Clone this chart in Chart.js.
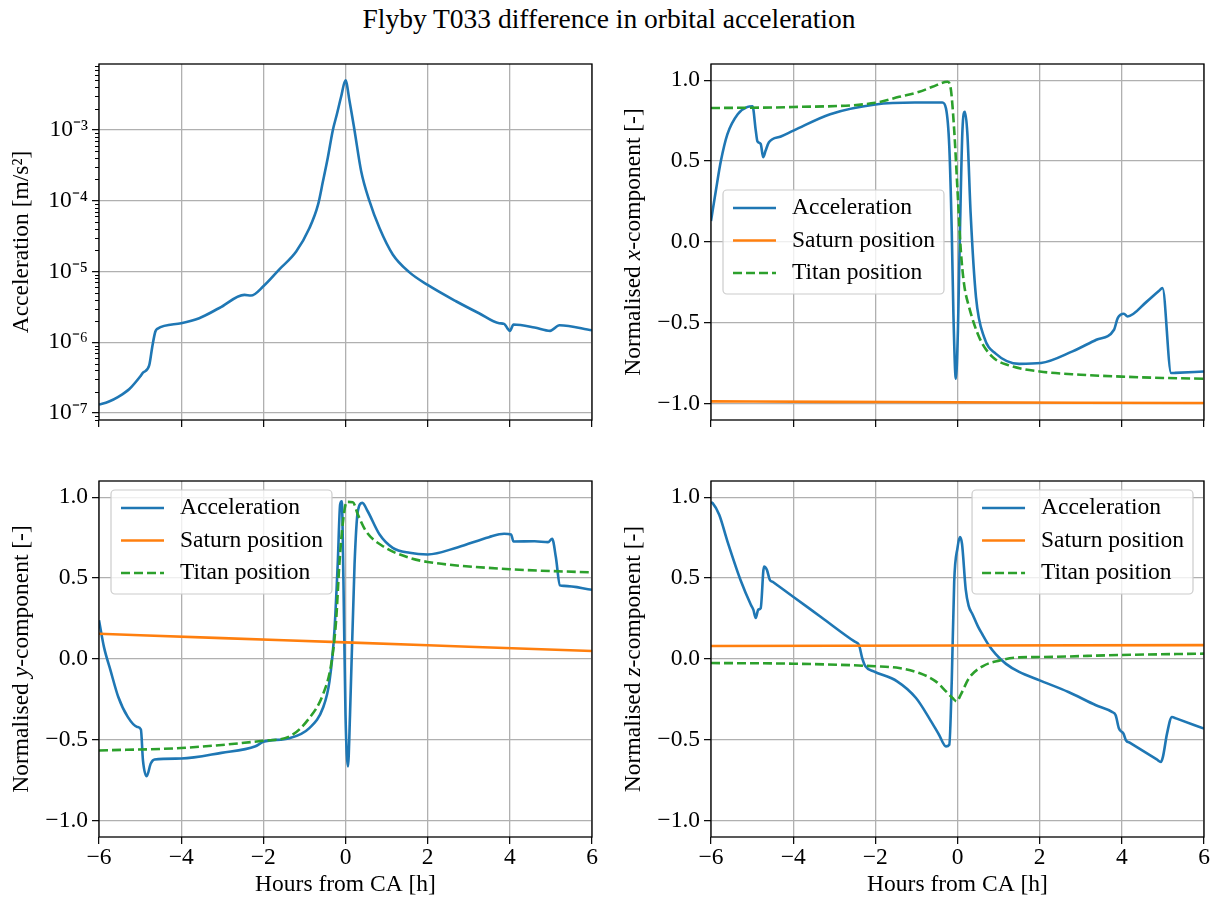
<!DOCTYPE html>
<html>
<head>
<meta charset="utf-8">
<script src="https://cdn.jsdelivr.net/npm/chart.js@4/dist/chart.umd.min.js"></script>
<style>
  body { margin: 0; background: #fff; }
  #page { position: relative; width: 1218px; height: 903px; }
  #title { position: absolute; left: 0; top: 3px; width: 1218px; text-align: center;
           font-family: "Liberation Serif", serif; font-size: 27.5px; color: #000; }
  canvas { position: absolute; }
</style>
</head>
<body>
<div id="page">
  <div id="title">Flyby T033 difference in orbital acceleration</div>
  <canvas id="c1" width="609" height="400" style="left:0;top:44px"></canvas>
  <canvas id="c2" width="609" height="400" style="left:609px;top:44px"></canvas>
  <canvas id="c3" width="609" height="441" style="left:0;top:462px"></canvas>
  <canvas id="c4" width="609" height="441" style="left:609px;top:462px"></canvas>
</div>
<script>
// ticks
var hourTicks = [-6, -4, -2, 0, 2, 4, 6];
var compTicks = [-1, -0.5, 0, 0.5, 1];
var magTicks = [1e-7, 1e-6, 1e-5, 1e-4, 1e-3];
var seriesLabels = ['Acceleration', 'Saturn position', 'Titan position'];

// panel 1: magnitude of acceleration difference [m/s^2]
var magHours = [-6, -5.77, -5.53, -5.26, -4.98, -4.93, -4.78, -4.7, -4.63, -4.58, -4, -3.56, -3.07, -2.46, -2.3, -2,
  -1.61, -1.2, -0.88, -0.67, -0.55, -0.43, -0.31, -0.21, -0.11, 0, 0.1, 0.22, 0.38, 0.58, 0.83, 1.15, 1.55, 2,
  2.69, 3.25, 3.74, 3.86, 3.95, 4.0, 4.09, 4.6, 4.98, 5.21, 6];
var magAcc = [1.32e-7, 1.45e-7, 1.7e-7, 2.19e-7, 3.39e-7, 3.72e-7, 4.68e-7, 8.9e-7, 1.41e-6, 1.55e-6, 1.86e-6, 2.19e-6, 3.05e-6, 4.68e-6, 4.57e-6, 6.17e-6,
  1.07e-5, 1.91e-5, 4.07e-5, 8.7e-5, 1.86e-4, 4.07e-4, 9.8e-4, 1.66e-3, 2.88e-3, 5.0e-3, 2.51e-3, 9.8e-4, 2.63e-4, 1.0e-4, 4.07e-5, 1.74e-5, 9.8e-6, 6.46e-6,
  3.8e-6, 2.57e-6, 1.86e-6, 1.82e-6, 1.55e-6, 1.45e-6, 1.78e-6, 1.62e-6, 1.45e-6, 1.74e-6, 1.48e-6];

// panel 2: x-component
var xAccHours = [-6, -5.88, -5.76, -5.6, -5.35, -5.11, -4.99, -4.91, -4.87, -4.79, -4.73, -4.67, -4.59, -4.3, -3.98, -3.1, -2, -1.04,
  -0.37, -0.28, -0.2, -0.14, -0.1, -0.04, 0.01, 0.06, 0.12, 0.18, 0.24, 0.32, 0.45, 0.65, 0.93, 1.5, 2.03, 2.8, 3.38, 3.81,
  3.9, 4.05, 4.14, 4.6, 4.9, 4.99, 5.2, 5.3, 6];
var xAcc = [0.13, 0.32, 0.5, 0.667, 0.79, 0.835, 0.839, 0.688, 0.622, 0.606, 0.524, 0.565, 0.616, 0.652, 0.69, 0.79, 0.85, 0.862,
  0.862, 0.825, 0.59, 0.07, -0.44, -0.845, -0.55, 0.07, 0.69, 0.805, 0.67, 0.175, -0.34, -0.59, -0.69, -0.753, -0.748, -0.676, -0.604, -0.542,
  -0.47, -0.443, -0.46, -0.37, -0.303, -0.285, -0.81, -0.809, -0.8];
var xSatHours = [-6, -3, 0, 3, 6];
var xSat = [-0.985, -0.988, -0.99, -0.993, -0.995];
var xTitHours = [-6, -4, -2, -1.42, -0.93, -0.61, -0.24, -0.16, -0.08, 0, 0.08, 0.16, 0.28, 0.53, 0.85, 1.26, 2, 3, 4, 5, 6];
var xTit = [0.828, 0.834, 0.86, 0.897, 0.928, 0.959, 0.99, 0.94, 0.69, 0.32, -0.05, -0.26, -0.4, -0.59, -0.71, -0.763, -0.8, -0.82, -0.832, -0.84, -0.845];

// panel 3: y-component
var yAccHours = [-6, -5.88, -5.72, -5.53, -5.3, -5.07, -4.98, -4.93, -4.84, -4.74, -4.65, -4, -3.02, -2.19, -2, -1.36, -0.88,
  -0.55, -0.39, -0.27, -0.19, -0.13, -0.09, -0.05, 0, 0.06, 0.11, 0.22, 0.3, 0.41, 0.54, 0.83, 1.15, 1.56, 2, 2.74, 3.49,
  3.86, 4.03, 4.09, 4.6, 4.93, 5.03, 5.12, 5.22, 5.32, 6];
var yAcc = [0.24, 0.075, -0.07, -0.235, -0.358, -0.42, -0.436, -0.626, -0.724, -0.646, -0.621, -0.615, -0.58, -0.539, -0.512, -0.489, -0.427,
  -0.303, -0.138, 0.171, 0.583, 0.955, 0.975, 0.48, -0.344, -0.664, -0.344, 0.583, 0.913, 0.965, 0.913, 0.769, 0.687, 0.656, 0.646, 0.691, 0.753,
  0.774, 0.77, 0.726, 0.728, 0.722, 0.743, 0.63, 0.455, 0.452, 0.428];
var ySatHours = [-6, -3, 0, 3, 6];
var ySat = [0.156, 0.129, 0.103, 0.076, 0.049];
var yTitHours = [-6, -4, -2, -1.36, -0.88, -0.55, -0.35, -0.23, -0.15, -0.06, 0.03, 0.18, 0.3, 0.5, 0.91, 1.56, 2, 4, 6];
var yTit = [-0.565, -0.55, -0.505, -0.478, -0.365, -0.22, -0.035, 0.233, 0.583, 0.852, 0.971, 0.969, 0.893, 0.79, 0.697, 0.625, 0.6, 0.555, 0.535];

// panel 4: z-component
var zAccHours = [-6, -5.96, -5.8, -5.6, -5.27, -5.03, -4.97, -4.91, -4.85, -4.79, -4.71, -4.64, -4.57, -4.5, -4, -3.3, -2.5, -2.4, -2.32, -2.24, -2.04,
  -1.47, -1.01, -0.69, -0.45, -0.28, -0.2, -0.14, -0.08, 0, 0.06, 0.11, 0.2, 0.27, 0.37, 0.5, 0.61, 0.75, 0.93, 1.18, 1.5, 2, 2.7, 3.37,
  3.76, 3.85, 3.93, 4.04, 4.1, 4.2, 4.85, 4.95, 5.0, 5.1, 5.22, 5.32, 6];
var zAcc = [0.969, 0.963, 0.891, 0.727, 0.48, 0.335, 0.305, 0.253, 0.305, 0.315, 0.572, 0.551, 0.49, 0.477, 0.385, 0.255, 0.107, 0.088, 0.006, -0.045, -0.076,
  -0.138, -0.241, -0.365, -0.468, -0.54, -0.53, -0.138, 0.48, 0.687, 0.753, 0.711, 0.43, 0.33, 0.274, 0.2, 0.15, 0.09, 0.03, -0.03, -0.08, -0.132, -0.204, -0.286,
  -0.327, -0.348, -0.43, -0.461, -0.502, -0.518, -0.62, -0.636, -0.605, -0.461, -0.358, -0.367, -0.43];
var zSatHours = [-6, 0, 6];
var zSat = [0.08, 0.083, 0.086];
var zTitHours = [-6, -4, -2, -1.42, -0.93, -0.53, -0.28, -0.12, -0.02, 0.08, 0.28, 0.61, 1.01, 1.5, 2, 4, 6];
var zTit = [-0.025, -0.029, -0.045, -0.056, -0.087, -0.138, -0.2, -0.241, -0.262, -0.22, -0.118, -0.045, -0.01, 0.01, 0.012, 0.025, 0.033];

var FONT = '"Liberation Serif", serif';
var FS = 23.5;
var blue = '#1f77b4', orange = '#ff7f0e', green = '#2ca02c';
Chart.defaults.font.family = FONT;
Chart.defaults.font.size = FS;
Chart.defaults.color = '#000';

function pts(xs, ys) {
  var out = [];
  for (var i = 0; i < xs.length; i++) out.push({x: xs[i], y: ys[i]});
  return out;
}

function line(label, xs, ys, color, dash, order) {
  return {
    label: label, data: pts(xs, ys), borderColor: color, borderWidth: 2.6,
    borderDash: dash, pointRadius: 0, cubicInterpolationMode: 'monotone', order: order, fill: false
  };
}

function minus(s) { return String(s).replace('-', '\u2212'); }
var sup = {'-': '\u207B', '0': '\u2070', '1': '\u00B9', '2': '\u00B2', '3': '\u00B3', '4': '\u2074',
           '5': '\u2075', '6': '\u2076', '7': '\u2077', '8': '\u2078', '9': '\u2079'};

// frame around each plot
var boxPlugin = {
  id: 'box',
  afterDraw: function(chart) {
    var ctx = chart.ctx, a = chart.chartArea;
    ctx.save();
    ctx.strokeStyle = '#000';
    ctx.lineWidth = 1.3;
    ctx.strokeRect(a.left, a.top, a.right - a.left, a.bottom - a.top);
    ctx.restore();
  }
};

// rotated y title with italic parts
var yTitlePlugin = {
  id: 'yTitle',
  afterDraw: function(chart, args, opts) {
    var ctx = chart.ctx, a = chart.chartArea;
    var parts = opts.parts, w = 0;
    ctx.save();
    ctx.translate(opts.x, (a.top + a.bottom) / 2);
    ctx.rotate(-Math.PI / 2);
    parts.forEach(function(p) {
      ctx.font = (p.italic ? 'italic ' : '') + FS + 'px ' + FONT;
      p.w = ctx.measureText(p.text).width;
      w += p.w;
    });
    var x = -w / 2;
    ctx.fillStyle = '#000';
    ctx.textBaseline = 'middle';
    parts.forEach(function(p) {
      ctx.font = (p.italic ? 'italic ' : '') + FS + 'px ' + FONT;
      ctx.fillText(p.text, x, 0);
      x += p.w;
    });
    ctx.restore();
  }
};

// matplotlib style legend box inside the axes
var boxLegend = {
  id: 'boxLegend',
  afterDraw: function(chart, args, opts) {
    if (!opts.show) return;
    var ctx = chart.ctx, a = chart.chartArea, ds = chart.data.datasets;
    ctx.save();
    ctx.font = FS + 'px ' + FONT;
    var tw = 0;
    ds.forEach(function(d) { tw = Math.max(tw, ctx.measureText(d.label).width); });
    var w = 10 + 43 + 16 + tw + 9, h = 104;
    var x = opts.align === 'right' ? a.right - opts.dx - w : a.left + opts.dx;
    var y = a.top + opts.dy;
    ctx.fillStyle = 'rgba(255,255,255,0.8)';
    ctx.strokeStyle = '#cccccc';
    ctx.lineWidth = 1.2;
    ctx.beginPath();
    ctx.roundRect(x, y, w, h, 4);
    ctx.fill();
    ctx.stroke();
    ds.forEach(function(d, i) {
      var cy = y + 18 + i * 32.5;
      ctx.strokeStyle = d.borderColor;
      ctx.lineWidth = d.borderWidth;
      ctx.setLineDash(d.borderDash || []);
      ctx.beginPath();
      ctx.moveTo(x + 10, cy);
      ctx.lineTo(x + 53, cy);
      ctx.stroke();
      ctx.setLineDash([]);
      ctx.fillStyle = '#000';
      ctx.textBaseline = 'middle';
      ctx.fillText(d.label, x + 69, cy);
    });
    ctx.restore();
  }
};

// short minor ticks on the log axis
var minorTicks = {
  id: 'minorTicks',
  afterDraw: function(chart, args, opts) {
    if (!opts.show) return;
    var s = chart.scales.y, ctx = chart.ctx, a = chart.chartArea;
    ctx.save();
    ctx.strokeStyle = '#000';
    ctx.lineWidth = 1;
    for (var e = -8; e <= -2; e++) {
      for (var k = 2; k <= 9; k++) {
        var v = k * Math.pow(10, e);
        if (v < s.min || v > s.max) continue;
        var py = Math.round(s.getPixelForValue(v)) + 0.5;
        ctx.beginPath();
        ctx.moveTo(a.left - 4, py);
        ctx.lineTo(a.left, py);
        ctx.stroke();
      }
    }
    ctx.restore();
  }
};

function makePanel(id, cfg) {
  var xScale = {
    type: 'linear', min: -6, max: 6,
    afterBuildTicks: function(s) { s.ticks = hourTicks.map(function(v) { return {value: v}; }); },
    afterFit: function(s) { s.height = cfg.xHeight; },
    grid: { color: '#b0b0b0', lineWidth: 1.3, tickColor: '#000', tickLength: 7, tickWidth: 1.2 },
    border: { display: false },
    ticks: { display: cfg.xLabels, padding: 0, autoSkip: false, maxRotation: 0,
             callback: function(v) { return minus(v); } },
    title: { display: cfg.xLabels, text: 'Hours from CA [h]', padding: {top: 2, bottom: 4} }
  };
  var yScale;
  if (cfg.log) {
    yScale = {
      type: 'logarithmic', min: 8e-8, max: 8.5e-3,
      afterBuildTicks: function(s) { s.ticks = magTicks.map(function(v) { return {value: v}; }); },
      ticks: { padding: 4, autoSkip: false,
               callback: function(v) {
                 var e = String(Math.round(Math.log10(v)));
                 return '10' + e.split('').map(function(c) { return sup[c]; }).join('');
               } }
    };
  } else {
    yScale = {
      type: 'linear', min: -1.1, max: 1.1,
      afterBuildTicks: function(s) { s.ticks = compTicks.map(function(v) { return {value: v}; }); },
      ticks: { padding: 4, autoSkip: false, callback: function(v) { return minus(v.toFixed(1)); } }
    };
  }
  yScale.afterFit = function(s) { s.width = cfg.yWidth; };
  yScale.grid = { color: '#b0b0b0', lineWidth: 1.3, tickColor: '#000', tickLength: 7, tickWidth: 1.2 };
  yScale.border = { display: false };

  new Chart(document.getElementById(id), {
    type: 'line',
    data: { datasets: cfg.datasets },
    options: {
      responsive: false, animation: false, devicePixelRatio: 1,
      layout: { padding: { left: 0, right: cfg.padRight, top: cfg.padTop, bottom: 0 } },
      scales: { x: xScale, y: yScale },
      plugins: {
        legend: { display: false }, tooltip: { enabled: false },
        yTitle: { x: cfg.titleX, parts: cfg.yTitle },
        boxLegend: cfg.legend || { show: false },
        minorTicks: { show: !!cfg.log }
      }
    },
    plugins: [boxPlugin, yTitlePlugin, boxLegend, minorTicks]
  });
}

makePanel('c1', {
  log: true, yWidth: 99, padRight: 17, padTop: 20, xHeight: 24, xLabels: false, titleX: 22,
  yTitle: [{text: 'Acceleration [m/s\u00B2]'}],
  datasets: [line(seriesLabels[0], magHours, magAcc, blue, [], 2)]
});

makePanel('c2', {
  yWidth: 102, padRight: 14, padTop: 20, xHeight: 24, xLabels: false, titleX: 25,
  yTitle: [{text: 'Normalised '}, {text: 'x', italic: true}, {text: '-component [-]'}],
  legend: { show: true, align: 'left', dx: 12, dy: 126 },
  datasets: [
    line(seriesLabels[0], xAccHours, xAcc, blue, [], 2),
    line(seriesLabels[1], xSatHours, xSat, orange, [], 1),
    line(seriesLabels[2], xTitHours, xTit, green, [9, 4], 0)
  ]
});

makePanel('c3', {
  yWidth: 99, padRight: 17, padTop: 19, xHeight: 66, xLabels: true, titleX: 22,
  yTitle: [{text: 'Normalised '}, {text: 'y', italic: true}, {text: '-component [-]'}],
  legend: { show: true, align: 'left', dx: 12, dy: 9 },
  datasets: [
    line(seriesLabels[0], yAccHours, yAcc, blue, [], 2),
    line(seriesLabels[1], ySatHours, ySat, orange, [], 1),
    line(seriesLabels[2], yTitHours, yTit, green, [9, 4], 0)
  ]
});

makePanel('c4', {
  yWidth: 102, padRight: 14, padTop: 19, xHeight: 66, xLabels: true, titleX: 25,
  yTitle: [{text: 'Normalised '}, {text: 'z', italic: true}, {text: '-component [-]'}],
  legend: { show: true, align: 'right', dx: 11, dy: 9 },
  datasets: [
    line(seriesLabels[0], zAccHours, zAcc, blue, [], 2),
    line(seriesLabels[1], zSatHours, zSat, orange, [], 1),
    line(seriesLabels[2], zTitHours, zTit, green, [9, 4], 0)
  ]
});
</script>
</body>
</html>
